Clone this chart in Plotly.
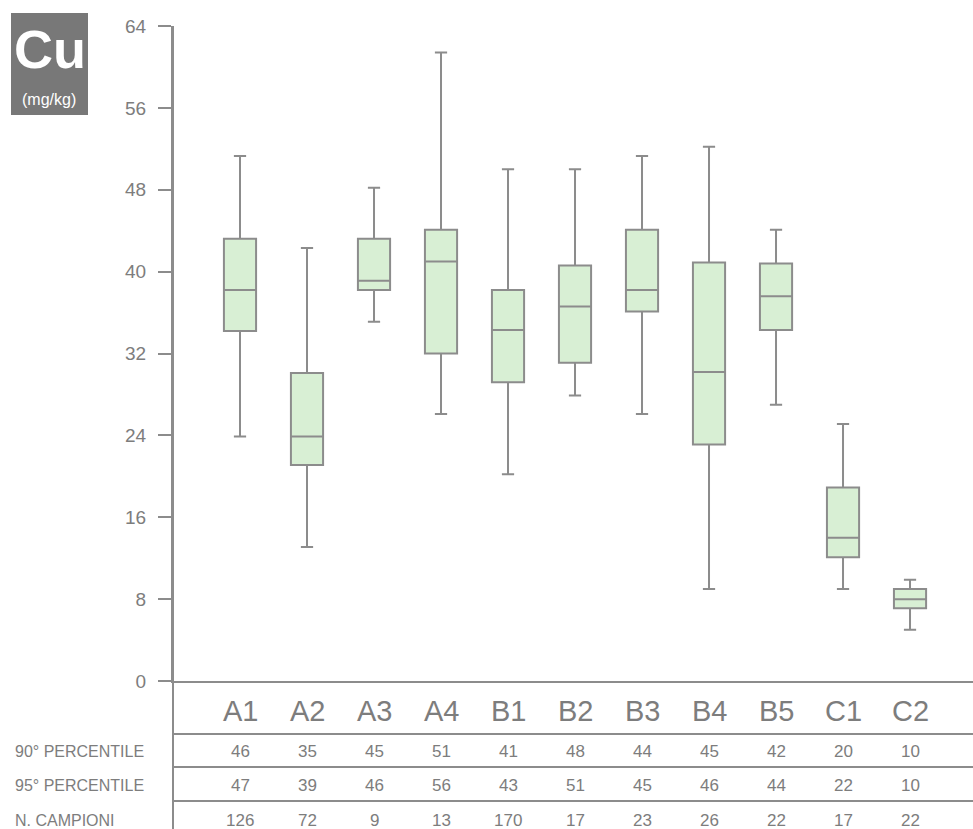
import plotly.graph_objects as go

# Cu (mg/kg) box statistics
siti = ['A1', 'A2', 'A3', 'A4', 'B1', 'B2', 'B3', 'B4', 'B5', 'C1', 'C2']
minimo = [23.9, 13.1, 35.1, 26.1, 20.2, 27.9, 26.1, 9.0, 27.0, 9.0, 5.0]
q1 = [34.2, 21.1, 38.2, 32.0, 29.2, 31.1, 36.1, 23.1, 34.3, 12.1, 7.1]
mediana = [38.2, 23.9, 39.1, 41.0, 34.3, 36.6, 38.2, 30.2, 37.6, 14.0, 8.0]
q3 = [43.2, 30.1, 43.2, 44.1, 38.2, 40.6, 44.1, 40.9, 40.8, 18.9, 9.0]
massimo = [51.3, 42.3, 48.2, 61.4, 50.0, 50.0, 51.3, 52.2, 44.1, 25.1, 9.9]

perc90 = [46, 35, 45, 51, 41, 48, 44, 45, 42, 20, 10]
perc95 = [47, 39, 46, 56, 43, 51, 45, 46, 44, 22, 10]
n_campioni = [126, 72, 9, 13, 170, 17, 23, 26, 22, 17, 22]
righe = ['90° PERCENTILE', '95° PERCENTILE', 'N. CAMPIONI']

grigio = '#8c8c8c'
testo = '#7d7d7d'
font = 'Liberation Sans, Arial, sans-serif'

W, H = 973, 829
L, T, B = 173, 26, 148
ph = H - T - B


def py(px):
    # pixel row -> paper y
    return (H - B - px) / ph


def pxx(px):
    return (px - L) / (W - L)


x = list(range(len(siti)))

fig = go.Figure(go.Box(
    x=x,
    q1=q1, median=mediana, q3=q3,
    lowerfence=minimo, upperfence=massimo,
    width=0.48, whiskerwidth=0.38,
    fillcolor='#d8efd4',
    line=dict(color=grigio, width=2),
    hoverinfo='y',
))

ann = []
for i, s in enumerate(siti):
    ann.append(dict(x=i, y=py(711), xref='x', yref='paper', text=s, showarrow=False,
                    xanchor='center', yanchor='middle',
                    font=dict(size=29, color=testo, family=font)))
    for vals, ypx in zip([perc90, perc95, n_campioni], [751, 785, 820]):
        ann.append(dict(x=i, y=py(ypx), xref='x', yref='paper', text=str(vals[i]),
                        xanchor='center', yanchor='middle',
                        showarrow=False, font=dict(size=17, color=testo, family=font)))

for r, ypx in zip(righe, [751, 785, 820]):
    ann.append(dict(x=pxx(13), y=py(ypx), xref='paper', yref='paper', text=r,
                    xanchor='left', yanchor='middle', showarrow=False,
                    font=dict(size=16, color=testo, family=font)))

ann.append(dict(x=pxx(50), y=py(49), xref='paper', yref='paper', text='<b>Cu</b>', showarrow=False,
                xanchor='center', yanchor='middle',
                font=dict(size=54, color='white', family=font)))
ann.append(dict(x=pxx(49), y=py(99), xref='paper', yref='paper', text='(mg/kg)', showarrow=False,
                xanchor='center', yanchor='middle',
                font=dict(size=16, color='white', family=font)))

shapes = [
    dict(type='rect', xref='paper', yref='paper', x0=pxx(11), x1=pxx(88), y0=py(115), y1=py(13),
         fillcolor='#787878', line=dict(width=0), layer='below'),
    dict(type='line', xref='paper', yref='paper', x0=0, x1=0, y0=py(H), y1=1,
         line=dict(color=grigio, width=2)),
]
for ypx in [734, 767, 801]:
    shapes.append(dict(type='line', xref='paper', yref='paper', x0=0, x1=1, y0=py(ypx), y1=py(ypx),
                       line=dict(color=grigio, width=2)))

fig.update_layout(
    template='none',
    width=W, height=H,
    margin=dict(l=L, r=0, t=T, b=B, autoexpand=False),
    plot_bgcolor='white', paper_bgcolor='white',
    showlegend=False,
    font=dict(family=font, color=testo),
    annotations=ann,
    shapes=shapes,
    xaxis=dict(range=[-1, 10.94], showticklabels=False, showgrid=False, zeroline=False,
               showline=True, linecolor=grigio, linewidth=2, ticks='', automargin=False),
    yaxis=dict(range=[0, 64], tickvals=[0, 8, 16, 24, 32, 40, 48, 56, 64],
               showgrid=False, zeroline=False, showline=True, linecolor=grigio, linewidth=2,
               ticks='outside', ticklen=13, tickwidth=2, tickcolor=grigio, automargin=False,
               ticklabelstandoff=8, tickfont=dict(size=19, color=testo)),
)

fig.write_html('out.html', config={'displayModeBar': False},
               post_script="document.body.style.margin='0';")
